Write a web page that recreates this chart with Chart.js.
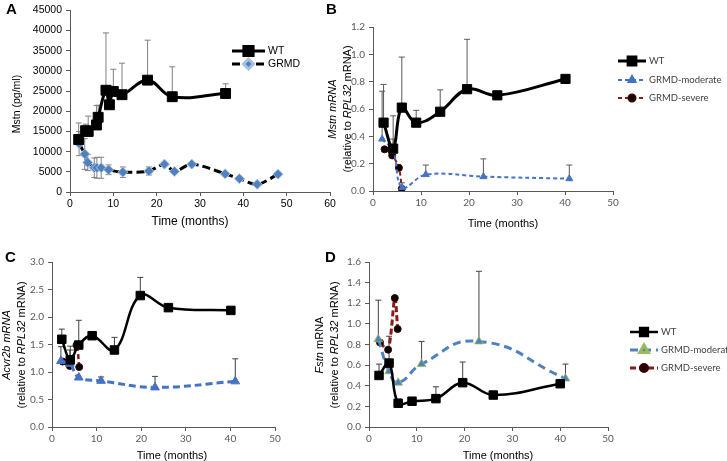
<!DOCTYPE html>
<html>
<head>
<meta charset="utf-8">
<script src="https://cdn.jsdelivr.net/npm/chart.js@4.4.1/dist/chart.umd.min.js"></script>
<style>
  body { margin: 0; background: #fff; }
  #wrap { position: relative; width: 727px; height: 461px; }
  #wrap canvas { position: absolute; left: 0; top: 0; }
</style>
</head>
<body>
<div id="wrap">
  <canvas id="cA" width="727" height="461"></canvas>
  <canvas id="cB" width="727" height="461"></canvas>
  <canvas id="cC" width="727" height="461"></canvas>
  <canvas id="cD" width="727" height="461"></canvas>
</div>
<script>
// ---- Panel A: serum Mstn (pg/ml) ----
const aWtX   = [2.0, 3.6, 4.2, 6.1, 6.5, 8.3, 9.1, 10.0, 12.0, 17.9, 23.6, 35.9];
const aWtY   = [13000, 15200, 15000, 16600, 18500, 25200, 21600, 24900, 24100, 27700, 23600, 24400];
const aWtErr = [17100, 16800, 18800, 21400, 21500, 39400, 26300, 30400, 31900, 37600, 31000, 26800];
const aGrX   = [2.1, 3.4, 4.1, 5.6, 6.2, 7.2, 8.9, 12.2, 18.2, 21.8, 24.1, 28.1, 35.8, 39.1, 43.2, 48.0];
const aGrY   = [12000, 9400, 7300, 6000, 6000, 6000, 5500, 4900, 5200, 6900, 5100, 6900, 4500, 3300, 1900, 4400];
const aGrSd  = [3000, 3800, 2000, 2400, 2600, 2600, 1200, 1300, 1000, 0, 0, 0, 0, 0, 0, 0];

// ---- Panel B: Mstn mRNA ----
const bWtX   = [2.2, 4.2, 6.0, 9.0, 14.0, 19.6, 25.9, 40.1];
const bWtY   = [0.50, 0.31, 0.61, 0.50, 0.58, 0.745, 0.70, 0.82];
const bWtErr = [0.78, 0.55, 0.98, 0.59, 0.74, 1.11, null, null];
const bModX  = [1.9, 4.2, 6.1, 11.0, 23.0, 40.9];
const bModY  = [0.38, 0.29, 0.025, 0.12, 0.105, 0.09];
const bModErr= [0.73, 0.38, null, 0.19, 0.235, 0.19];
const bSevX  = [2.4, 4.0, 5.4, 6.0];
const bSevY  = [0.305, 0.26, 0.17, 0.017];
const bSevErr= [null, null, null, 0.06];

// ---- Panel C: Acvr2b mRNA ----
const cWtX   = [2.2, 4.1, 6.0, 9.0, 14.0, 19.8, 26.1, 40.1];
const cWtY   = [1.595, 1.22, 1.49, 1.66, 1.40, 2.39, 2.17, 2.12];
const cWtErr = [1.78, 1.47, 1.94, null, 1.63, 2.72, null, null];
const cModX  = [2.0, 4.0, 6.0, 11.0, 23.1, 41.1];
const cModY  = [1.20, 1.15, 0.90, 0.84, 0.72, 0.83];
const cModErr= [1.46, 1.40, null, 0.91, 0.92, 1.24];
const cSevX  = [2.4, 4.0, 5.5, 6.1];
const cSevY  = [1.19, 1.11, 1.49, 1.09];

// ---- Panel D: Fstn mRNA ----
const dWtX   = [2.1, 4.2, 6.1, 9.0, 14.0, 19.6, 26.0, 40.0];
const dWtY   = [0.50, 0.62, 0.23, 0.25, 0.275, 0.43, 0.31, 0.42];
const dWtErr = [0.61, null, 0.27, null, 0.39, 0.63, null, null];
const dModX  = [1.95, 4.2, 6.1, 11.0, 23.0, 41.1];
const dModY  = [0.85, 0.54, 0.43, 0.61, 0.83, 0.47];
const dModErr= [1.23, 0.88, null, 0.83, 1.51, 0.61];
const dSevX  = [2.3, 4.0, 5.4, 6.0];
const dSevY  = [0.82, 0.75, 1.25, 0.95];

const SANS = "'Liberation Sans', Arial, sans-serif";
const CAL = "Lato, 'Open Sans', sans-serif";

function drawVText(ctx, x, cy, segs, size, color) {
  ctx.save();
  ctx.translate(x, cy);
  ctx.rotate(-Math.PI / 2);
  ctx.fillStyle = color;
  ctx.textBaseline = 'middle';
  ctx.textAlign = 'left';
  let total = 0;
  segs.forEach(s => {
    ctx.font = (s[1] ? 'italic ' : '') + size + 'px ' + SANS;
    total += ctx.measureText(s[0]).width;
  });
  let pos = -total / 2;
  segs.forEach(s => {
    ctx.font = (s[1] ? 'italic ' : '') + size + 'px ' + SANS;
    ctx.fillText(s[0], pos, 0);
    pos += ctx.measureText(s[0]).width;
  });
  ctx.restore();
}

function makePanel(id, p) {
  const yW = 40, xH = 20;
  const deco = {
    id: 'deco',
    beforeDatasetsDraw(chart) {
      // error bars under the markers
      const ctx = chart.ctx, xs = chart.scales.x, ys = chart.scales.y;
      ctx.save();
      ctx.strokeStyle = p.errColor;
      ctx.lineWidth = 1;
      p.series.forEach(s => {
        s.x.forEach((xv, j) => {
          const px = xs.getPixelForValue(xv);
          const ends = [];
          if (s.errUp && s.errUp[j] != null) ends.push(s.errUp[j]);
          if (s.errSd && s.errSd[j]) { ends.push(s.y[j] + s.errSd[j]); ends.push(s.y[j] - s.errSd[j]); }
          ends.forEach(ev => {
            const py0 = ys.getPixelForValue(s.y[j]);
            const py1 = ys.getPixelForValue(ev);
            ctx.beginPath();
            ctx.moveTo(px, py0); ctx.lineTo(px, py1);
            ctx.moveTo(px - 3, py1); ctx.lineTo(px + 3, py1);
            ctx.stroke();
          });
        });
      });
      ctx.restore();
    },
    afterDraw(chart) {
      const ctx = chart.ctx;
      // legend
      p.legend.forEach((lg, i) => {
        const s = p.series[i];
        ctx.save();
        ctx.strokeStyle = s.line;
        ctx.lineWidth = s.width;
        ctx.setLineDash(s.dash || []);
        ctx.beginPath();
        ctx.moveTo(lg.x1, lg.y); ctx.lineTo(lg.x2, lg.y);
        ctx.stroke();
        ctx.setLineDash([]);
        ctx.fillStyle = s.fill;
        ctx.strokeStyle = s.pBorder;
        Chart.helpers.drawPoint(ctx, { pointStyle: s.style, radius: s.legRadius || s.radius, rotation: 0, borderWidth: s.pBorderW }, (lg.x1 + lg.x2) / 2, lg.y);
        ctx.fillStyle = p.legendColor;
        ctx.font = p.legendSize + 'px ' + p.legendFont;
        ctx.textBaseline = 'middle';
        ctx.textAlign = 'left';
        ctx.fillText(s.label, lg.x2 + 3, lg.y);
        ctx.restore();
      });
      // axis titles
      ctx.save();
      ctx.fillStyle = '#000';
      ctx.font = p.xTitleSize + 'px ' + SANS;
      ctx.textAlign = 'center';
      ctx.textBaseline = 'middle';
      ctx.fillText('Time (months)', p.xTitle.x, p.xTitle.y);
      ctx.restore();
      p.yTitle.forEach(t => drawVText(ctx, t.x, t.cy, t.segs, p.yTitleSize, '#000'));
      // panel letter
      ctx.save();
      ctx.fillStyle = '#000';
      ctx.font = 'bold 15px ' + SANS;
      ctx.textBaseline = 'middle';
      ctx.fillText(p.letter.t, p.letter.x, p.letter.y);
      ctx.restore();
    }
  };
  const axisCol = '#595959';
  return new Chart(document.getElementById(id), {
    type: 'scatter',
    data: {
      datasets: p.series.map(s => ({
        label: s.label,
        data: s.x.map((xv, j) => ({ x: xv, y: s.y[j] })),
        showLine: true,
        borderColor: s.line,
        borderWidth: s.width,
        borderDash: s.dash || [],
        tension: s.tension,
        pointStyle: s.style,
        pointRadius: s.radius,
        pointBackgroundColor: s.fill,
        pointBorderColor: s.pBorder,
        pointBorderWidth: s.pBorderW
      }))
    },
    options: {
      responsive: false,
      animation: false,
      devicePixelRatio: 1,
      layout: {
        autoPadding: false,
        padding: { left: p.area.l - yW, top: p.area.t, right: 727 - p.area.r, bottom: 461 - p.area.b - xH }
      },
      plugins: { legend: { display: false }, tooltip: { enabled: false } },
      scales: {
        x: {
          type: 'linear', min: 0, max: p.xMax,
          afterFit(sc) { sc.height = xH; },
          grid: { drawOnChartArea: false, drawTicks: true, tickLength: 4, color: axisCol },
          border: { display: true, color: axisCol, width: 1 },
          ticks: { stepSize: 10, padding: 2, color: p.tickColor, font: { family: p.tickFont, size: p.tickSize }, maxRotation: 0 }
        },
        y: {
          type: 'linear', min: 0, max: p.yMax,
          afterFit(sc) { sc.width = yW; },
          grid: { drawOnChartArea: false, drawTicks: true, tickLength: 4, color: axisCol },
          border: { display: true, color: axisCol, width: 1 },
          ticks: { stepSize: p.yStep, padding: 4, color: p.tickColor, font: { family: p.tickFont, size: p.tickSize },
                   callback: v => p.yDec ? v.toFixed(p.yDec) : String(v) }
        }
      }
    },
    plugins: [deco]
  });
}

const WT = { line: '#000', width: 3, tension: 0.4, style: 'rect', fill: '#000', pBorder: '#000', pBorderW: 1 };

makePanel('cA', {
  area: { l: 70, r: 330, t: 6, b: 192 },
  xMax: 60, yMax: 45000, yStep: 5000, yDec: 0,
  tickFont: SANS, tickSize: 10.5, tickColor: '#000', errColor: '#808080',
  series: [
    Object.assign({}, WT, { label: 'WT', x: aWtX, y: aWtY, errUp: aWtErr, radius: 7, legRadius: 6.5 }),
    { label: 'GRMD', x: aGrX, y: aGrY, errSd: aGrSd, line: '#000', width: 3, dash: [8, 4], tension: 0.3,
      style: 'rectRot', radius: 5, fill: '#4f81bd', pBorder: '#a9c0e0', pBorderW: 1 }
  ],
  legend: [{ x1: 232, x2: 265, y: 51 }, { x1: 232, x2: 265, y: 64 }],
  legendFont: SANS, legendSize: 10.5, legendColor: '#000',
  xTitle: { x: 190, y: 222 }, xTitleSize: 12,
  yTitle: [{ x: 17, cy: 104, segs: [['Mstn (pg/ml)', false]] }], yTitleSize: 10.5,
  letter: { t: 'A', x: 6, y: 10 }
});

makePanel('cB', {
  area: { l: 373, r: 613, t: 27, b: 191 },
  xMax: 50, yMax: 1.2, yStep: 0.2, yDec: 1,
  tickFont: CAL, tickSize: 10, tickColor: '#595959', errColor: '#595959',
  series: [
    Object.assign({}, WT, { label: 'WT', x: bWtX, y: bWtY, errUp: bWtErr, radius: 6.5, legRadius: 5.5 }),
    { label: 'GRMD-moderate', x: bModX, y: bModY, errUp: bModErr, line: '#4472c4', width: 2, dash: [4, 3], tension: 0.4,
      style: 'triangle', radius: 4, fill: '#4472c4', pBorder: '#4472c4', pBorderW: 1 },
    { label: 'GRMD-severe', x: bSevX, y: bSevY, errUp: bSevErr, line: '#8b1a1a', width: 2, dash: [4, 3], tension: 0.3,
      style: 'circle', radius: 3.5, fill: '#000', pBorder: '#3a0000', pBorderW: 1 }
  ],
  legend: [{ x1: 618, x2: 646, y: 61 }, { x1: 618, x2: 646, y: 80 }, { x1: 618, x2: 646, y: 98 }],
  legendFont: CAL, legendSize: 9.5, legendColor: '#404040',
  xTitle: { x: 503, y: 224 }, xTitleSize: 11,
  yTitle: [{ x: 333, cy: 109, segs: [['Mstn mRNA', true]] },
           { x: 348, cy: 109, segs: [['(relative to ', false], ['RPL32', true], [' mRNA)', false]] }], yTitleSize: 11,
  letter: { t: 'B', x: 326, y: 10 }
});

makePanel('cC', {
  area: { l: 52, r: 275, t: 262, b: 427 },
  xMax: 50, yMax: 3, yStep: 0.5, yDec: 1,
  tickFont: CAL, tickSize: 10, tickColor: '#595959', errColor: '#404040',
  series: [
    Object.assign({}, WT, { label: 'WT', x: cWtX, y: cWtY, errUp: cWtErr, radius: 6, width: 2.5 }),
    { label: 'GRMD-moderate', x: cModX, y: cModY, errUp: cModErr, line: '#4472c4', width: 3, dash: [7, 4], tension: 0.4,
      style: 'triangle', radius: 5, fill: '#4472c4', pBorder: '#4472c4', pBorderW: 1 },
    { label: 'GRMD-severe', x: cSevX, y: cSevY, line: '#8b1a1a', width: 2.5, dash: [5, 3], tension: 0.3,
      style: 'circle', radius: 3.5, fill: '#000', pBorder: '#3a0000', pBorderW: 1 }
  ],
  legend: [],
  legendFont: CAL, legendSize: 9.5, legendColor: '#404040',
  xTitle: { x: 172, y: 456 }, xTitleSize: 11,
  yTitle: [{ x: 7, cy: 345, segs: [['Acvr2b mRNA', true]] },
           { x: 22, cy: 345, segs: [['(relative to ', false], ['RPL32', true], [' mRNA)', false]] }], yTitleSize: 11,
  letter: { t: 'C', x: 5, y: 258 }
});

makePanel('cD', {
  area: { l: 369, r: 608, t: 262, b: 427 },
  xMax: 50, yMax: 1.6, yStep: 0.2, yDec: 1,
  tickFont: CAL, tickSize: 10, tickColor: '#595959', errColor: '#404040',
  series: [
    Object.assign({}, WT, { label: 'WT', x: dWtX, y: dWtY, errUp: dWtErr, radius: 6, width: 2.5, legRadius: 5.5 }),
    { label: 'GRMD-moderate', x: dModX, y: dModY, errUp: dModErr, line: '#4f81bd', width: 3, dash: [8, 5], tension: 0.5,
      style: 'triangle', radius: 5, fill: '#4f81bd', pBorder: '#9bbb59', pBorderW: 0.8 },
    { label: 'GRMD-severe', x: dSevX, y: dSevY, line: '#8b1a1a', width: 3, dash: [6, 3], tension: 0.3,
      style: 'circle', radius: 3.5, fill: '#000', pBorder: '#3a0000', pBorderW: 1 }
  ],
  legend: [{ x1: 630, x2: 658, y: 332 }, { x1: 630, x2: 658, y: 350 }, { x1: 630, x2: 658, y: 368 }],
  legendFont: CAL, legendSize: 9.5, legendColor: '#404040',
  xTitle: { x: 498, y: 456 }, xTitleSize: 11,
  yTitle: [{ x: 320, cy: 345, segs: [['Fstn', true], [' mRNA', false]] },
           { x: 335, cy: 345, segs: [['(relative to ', false], ['RPL32', true], [' mRNA)', false]] }], yTitleSize: 11,
  letter: { t: 'D', x: 325, y: 258 }
});
</script>
</body>
</html>
